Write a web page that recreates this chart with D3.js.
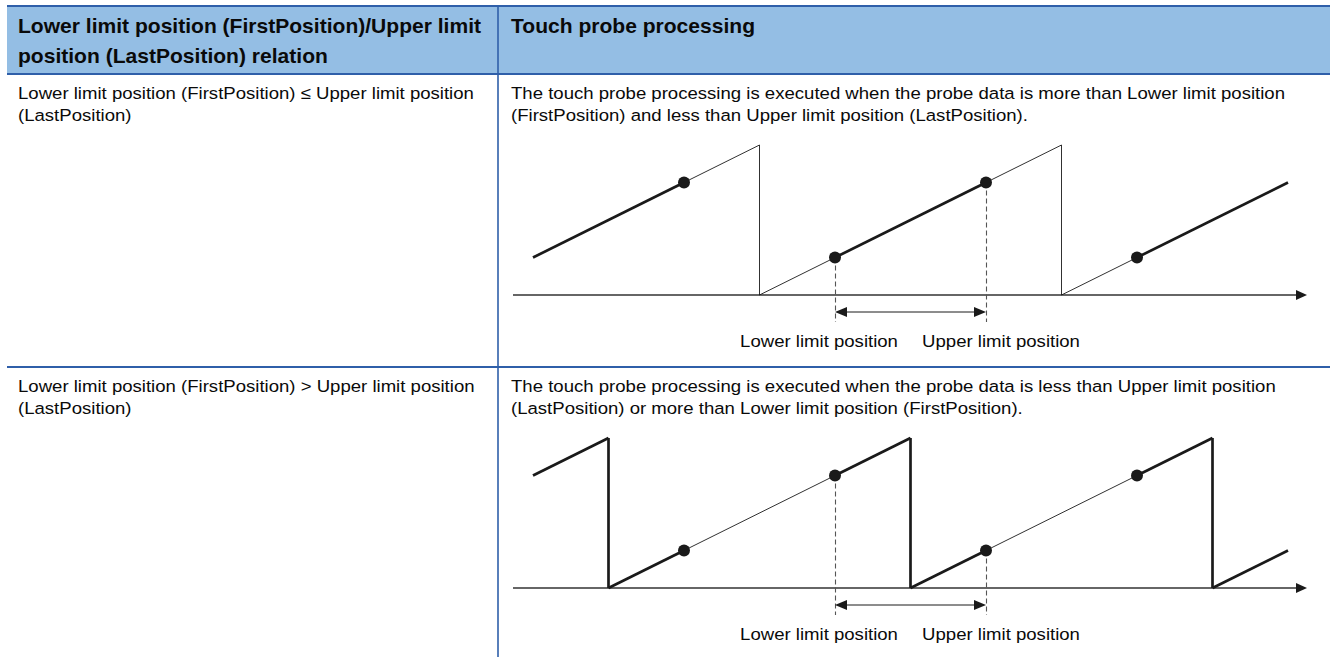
<!DOCTYPE html>
<html lang="en">
<head>
<meta charset="UTF-8">
<title>Touch probe processing</title>
<script src="https://d3js.org/d3.v7.min.js"></script>
<style>
  body { margin: 0; background: #fff; }
  svg text { font-family: "Liberation Sans", Arial, sans-serif; fill: #0a0a0a; }
  .head { font-weight: bold; font-size: 19.5px; }
  .body { font-size: 17.2px; }
</style>
</head>
<body>
<svg id="chart" width="1334" height="657"></svg>
<script>
// Table texts
const headerLeft = ["Lower limit position (FirstPosition)/Upper limit", "position (LastPosition) relation"];
const headerRight = ["Touch probe processing"];
const relationLines = [
  ["Lower limit position (FirstPosition) \u2264 Upper limit position", "(LastPosition)"],
  ["Lower limit position (FirstPosition) > Upper limit position", "(LastPosition)"]
];
const processingLines = [
  ["The touch probe processing is executed when the probe data is more than Lower limit position",
   "(FirstPosition) and less than Upper limit position (LastPosition)."],
  ["The touch probe processing is executed when the probe data is less than Upper limit position",
   "(LastPosition) or more than Lower limit position (FirstPosition)."]
];

// Sawtooth diagram values (position is 0..1 of one ring counter cycle)
const sawPhase = [0, 0.5];
const lowerLimit = [0.25, 0.75];
const upperLimit = [0.75, 0.25];
const timeRange = [0.25, 2.75];
const probeTimes = [0.75, 1.25, 1.75, 2.25];
const limitTimes = [1.25, 1.75];
const limitLabels = ["Lower limit position", "Upper limit position"];

// layout
const T = { left: 7, right: 1330, top: 6, headBottom: 74, divider: 498, bottom: 657 };
const rowTops = [74, 367];
const blue = "#2f5fa9";
const ink = "#1a1a1a";
const sx = 1.08; // reference text is slightly widened

const svg = d3.select("#chart");

// header band
svg.append("rect")
  .attr("x", T.left).attr("y", T.top)
  .attr("width", T.right - T.left).attr("height", T.headBottom - T.top)
  .attr("fill", "#94bee4");

function hline(y, w) {
  svg.append("line").attr("x1", T.left).attr("x2", T.right)
    .attr("y1", y).attr("y2", y).attr("stroke", blue).attr("stroke-width", w);
}
hline(T.top, 2.2);
hline(T.headBottom, 2.2);
hline(rowTops[1], 2);
svg.append("line").attr("x1", T.divider).attr("x2", T.divider)
  .attr("y1", T.top).attr("y2", T.bottom).attr("stroke", blue).attr("stroke-width", 1.6);

function addLines(lines, x, y0, lh, cls) {
  lines.forEach((s, i) => {
    svg.append("text").attr("class", cls)
      .attr("transform", `translate(${x},${y0 + i * lh}) scale(${sx},1)`)
      .text(s);
  });
}
addLines(headerLeft, 18, 33, 29.5, "head");
addLines(headerRight, 511, 33, 29.5, "head");
rowTops.forEach((top, k) => {
  addLines(relationLines[k], 18, top + 25, 22, "body");
  addLines(processingLines[k], 511, top + 25, 22, "body");
});

// diagrams
const x = d3.scaleLinear().domain(timeRange).range([533, 1288]);

rowTops.forEach((top, k) => {
  const axisY = top + 221;
  const y = d3.scaleLinear().domain([0, 1]).range([axisY, axisY - 150]);
  const phase = sawPhase[k], lo = lowerLimit[k], hi = upperLimit[k];
  const value = t => (((t - phase) % 1) + 1) % 1;
  const active = v => lo <= hi ? (v >= lo - 1e-9 && v <= hi + 1e-9) : (v >= lo - 1e-9 || v <= hi + 1e-9);
  const g = svg.append("g");

  // drop points and limit crossings
  const drops = [];
  const breaks = [timeRange[0], timeRange[1]];
  for (let n = Math.ceil(timeRange[0] - phase) - 1; n <= Math.floor(timeRange[1] - phase) + 1; n++) {
    [0, lo, hi].forEach(o => {
      const t = phase + n + o;
      if (t > timeRange[0] + 1e-9 && t < timeRange[1] - 1e-9) {
        breaks.push(t);
        if (o === 0) drops.push(t);
      }
    });
  }
  breaks.sort((a, b) => a - b);

  // axis
  const ax0 = x(timeRange[0]) - 20, ax1 = x(timeRange[1]) + 19;
  g.append("line").attr("x1", ax0).attr("x2", ax1 - 8).attr("y1", axisY).attr("y2", axisY)
    .attr("stroke", "#333").attr("stroke-width", 1.3);
  g.append("path").attr("d", `M${ax1},${axisY} L${ax1 - 11},${axisY - 5} L${ax1 - 11},${axisY + 5} Z`)
    .attr("fill", ink);

  // ramp pieces
  for (let i = 0; i < breaks.length - 1; i++) {
    const a = breaks[i], b = breaks[i + 1];
    const vm = value((a + b) / 2);
    const va = vm - (b - a) / 2, vb = vm + (b - a) / 2;
    g.append("line")
      .attr("x1", x(a)).attr("y1", y(va)).attr("x2", x(b)).attr("y2", y(vb))
      .attr("stroke", ink).attr("stroke-width", active(vm) ? 2.7 : 0.9)
      .attr("stroke-linecap", "butt");
  }
  // vertical drops
  drops.forEach(d => {
    const thick = active(1) && active(0);
    g.append("line").attr("x1", x(d)).attr("x2", x(d)).attr("y1", y(1)).attr("y2", y(0))
      .attr("stroke", ink).attr("stroke-width", thick ? 2.7 : 0.9);
  });

  // dashed limit markers
  limitTimes.forEach(t => {
    const lx = Math.round(x(t)) + 0.5;
    g.append("line").attr("x1", lx).attr("x2", lx)
      .attr("y1", y(value(t))).attr("y2", axisY + 27)
      .attr("stroke", "#555").attr("stroke-width", 1.1).attr("stroke-dasharray", "5,3");
  });

  // double-headed arrow between limits
  const xa = x(limitTimes[0]), xb = x(limitTimes[1]), ay = axisY + 17;
  g.append("line").attr("x1", xa + 10).attr("x2", xb - 10).attr("y1", ay).attr("y2", ay)
    .attr("stroke", ink).attr("stroke-width", 1);
  g.append("path").attr("d", `M${xa},${ay} L${xa + 12},${ay - 5} L${xa + 12},${ay + 5} Z`).attr("fill", ink);
  g.append("path").attr("d", `M${xb},${ay} L${xb - 12},${ay - 5} L${xb - 12},${ay + 5} Z`).attr("fill", ink);

  // probe points
  g.selectAll("circle").data(probeTimes).join("circle")
    .attr("cx", d => x(d)).attr("cy", d => y(value(d))).attr("r", 6).attr("fill", ink);

  // labels
  [xa - 16, xb + 15].forEach((cx, i) => {
    g.append("text").attr("class", "body").attr("text-anchor", "middle")
      .attr("transform", `translate(${cx},${axisY + 52}) scale(${sx},1)`)
      .text(limitLabels[i]);
  });
});
</script>
</body>
</html>
